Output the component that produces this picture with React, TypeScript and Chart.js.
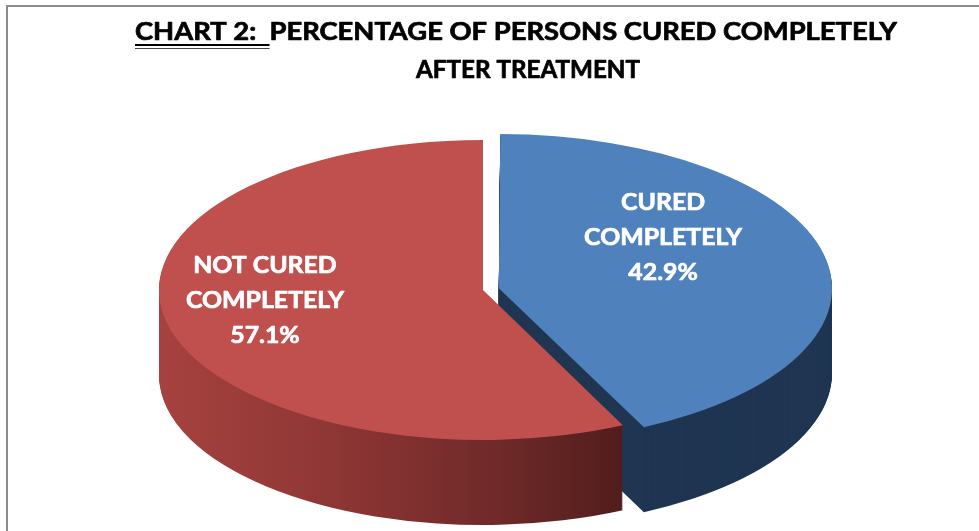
import React, { useEffect, useRef } from 'react';
import { Chart, registerables } from 'chart.js';

Chart.register(...registerables);

// ---- data ----
const categories = ['CURED COMPLETELY', 'NOT CURED COMPLETELY'];
const percentages = [42.9, 57.1];
const titleLines = ['CHART 2:  PERCENTAGE OF PERSONS CURED COMPLETELY', 'AFTER TREATMENT'];
const underlinedPrefix = 'CHART 2:  ';

// ---- style ----
const topColors = ['#4f81bd', '#c0504d'];
const sideBlue = '#1f3552';
const W = 979;
const H = 531;
const CX = 483;
const CY = 290;
const RY = 150;
const RX = 324;
const DEPTH = 85;
const SX = RX / RY;
const FONT = '"Lato", "Liberation Sans", sans-serif';
const labelRadius = [0.52, 0.69];
const labelLift = [-34, -13];

const pie3d = {
  id: 'pie3d',
  beforeDatasetsDraw(chart: any) {
    const ctx: CanvasRenderingContext2D = chart.ctx;
    const arcs = chart.getDatasetMeta(0).data as any[];
    const cx = arcs[0].x;
    ctx.save();
    ctx.translate(cx, 0);
    ctx.scale(SX, 1);
    ctx.translate(-cx, 0);
    const toLocal = (X: number) => cx + (X - cx) / SX;
    const redGrad = ctx.createLinearGradient(toLocal(160), 0, toLocal(636), 0);
    redGrad.addColorStop(0, '#a6423f');
    redGrad.addColorStop(0.35, '#8f3735');
    redGrad.addColorStop(0.7, '#702a29');
    redGrad.addColorStop(1, '#4e1c1b');
    const sideFills: any[] = [sideBlue, redGrad];
    const drawWith = (arc: any, fill: any) => {
      const o = arc.options;
      arc.options = { ...o, backgroundColor: fill };
      arc.draw(ctx);
      arc.options = o;
    };
    for (const i of [0, 1]) {
      for (let k = DEPTH; k >= 1; k--) {
        ctx.save();
        ctx.translate(0, k);
        drawWith(arcs[i], sideFills[i]);
        ctx.restore();
      }
    }
    for (const i of [0, 1]) arcs[i].draw(ctx);
    ctx.restore();
    return false;
  },
  afterDraw(chart: any) {
    const ctx: CanvasRenderingContext2D = chart.ctx;
    const arcs = chart.getDatasetMeta(0).data as any[];
    const drawText = (t: string, x: number, y: number, f: number, color: string) => {
      ctx.save();
      ctx.translate(x, y);
      ctx.scale(f, 1);
      ctx.fillStyle = color;
      ctx.strokeStyle = color;
      ctx.lineWidth = 0.7;
      ctx.lineJoin = 'round';
      ctx.fillText(t, 0, 0);
      ctx.strokeText(t, 0, 0);
      ctx.restore();
    };
    ctx.save();
    ctx.font = `bold 24px ${FONT}`;
    ctx.textBaseline = 'alphabetic';
    const fx = 762 / ctx.measureText(titleLines[0]).width;
    const fx2 = 224 / ctx.measureText(titleLines[1]).width;
    // title line 1 (left aligned)
    ctx.textAlign = 'left';
    drawText(titleLines[0], 135, 40, fx, '#000000');
    // double underline of prefix
    const uw = ctx.measureText(underlinedPrefix).width * fx;
    ctx.fillStyle = '#000000';
    ctx.fillRect(135, 44, uw, 2);
    ctx.fillStyle = '#444444';
    ctx.fillRect(135, 48, uw, 1);
    // title line 2 centered
    ctx.textAlign = 'center';
    drawText(titleLines[1], 528, 78, fx2, '#000000');

    // slice labels
    ctx.font = `bold 23px ${FONT}`;
    const fl = 158 / ctx.measureText('COMPLETELY').width;
    arcs.forEach((arc: any, i: number) => {
      const mid = (arc.startAngle + arc.endAngle) / 2;
      const off = (arc.options.offset || 0) / 4;
      const d = off + arc.outerRadius * labelRadius[i];
      const x = arc.x + Math.cos(mid) * d * SX;
      const y = arc.y + Math.sin(mid) * d + labelLift[i];
      const name = categories[i];
      const sp = name.lastIndexOf(' ');
      const lines = [name.slice(0, sp), name.slice(sp + 1), percentages[i].toFixed(1) + '%'];
      lines.forEach((t, j) => drawText(t, x, y + 8 + (j - 1) * 35, fl, '#ffffff'));
    });
    ctx.restore();
  },
};

export default function App() {
  const ref = useRef<HTMLCanvasElement>(null);
  useEffect(() => {
    if (!ref.current) return;
    const chart = new Chart(ref.current, {
      type: 'pie',
      data: {
        labels: categories,
        datasets: [
          {
            data: percentages,
            backgroundColor: topColors,
            borderWidth: 0,
            offset: [30, 0],
            radius: RY,
          } as any,
        ],
      },
      options: {
        responsive: false,
        animation: false,
        devicePixelRatio: 1,
        events: [],
        layout: { padding: { left: 0, right: W - 2 * CX, top: CY - RY, bottom: H - (CY + RY) } },
        plugins: {
          legend: { display: false },
          tooltip: { enabled: false },
          title: { display: false },
        },
      } as any,
      plugins: [pie3d as any],
    });
    return () => chart.destroy();
  }, []);
  return (
    <div style={{ position: 'absolute', left: 0, top: 0, width: W, height: H, background: '#ffffff' }}>
      <div
        style={{
          position: 'absolute',
          left: 6,
          top: 5,
          width: W - 6,
          height: H - 5,
          boxSizing: 'border-box',
          borderTop: '2px solid #8c8c8c',
          borderLeft: '2px solid #8c8c8c',
        }}
      />
      <canvas ref={ref} width={W} height={H} style={{ position: 'absolute', left: 0, top: 0, display: 'block' }} />
    </div>
  );
}
